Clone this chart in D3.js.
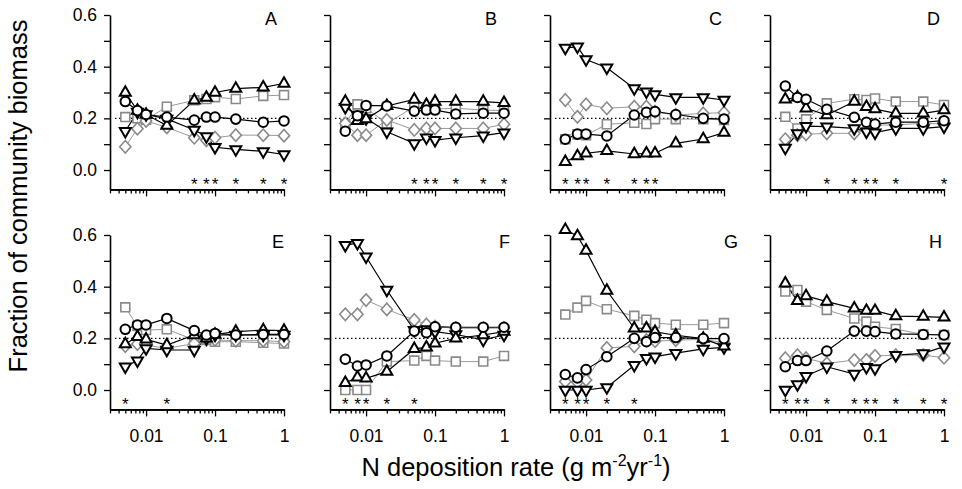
<!DOCTYPE html>
<html>
<head>
<meta charset="utf-8">
<script src="https://cdn.jsdelivr.net/npm/d3@7"></script>
<style>
  body { margin: 0; background: #fff; }
  text { font-family: "Liberation Sans", Arial, Helvetica, sans-serif; }
</style>
</head>
<body>
<div id="chart"></div>
<script>
// N deposition levels (g m-2 yr-1)
let xs = [0.005, 0.0075, 0.01, 0.02, 0.05, 0.075, 0.1, 0.2, 0.5, 1]
let panels = ["A", "B", "C", "D", "E", "F", "G", "H"]

// one row per panel, A..H
let circles = [
  [0.265, 0.23, 0.215, 0.205, 0.193, 0.205, 0.205, 0.197, 0.185, 0.19],
  [0.15, 0.21, 0.25, 0.248, 0.228, 0.232, 0.232, 0.217, 0.22, 0.22],
  [0.119, 0.139, 0.139, 0.132, 0.213, 0.223, 0.226, 0.215, 0.2, 0.197],
  [0.325, 0.281, 0.274, 0.235, 0.204, 0.185, 0.178, 0.185, 0.185, 0.191],
  [0.235, 0.252, 0.252, 0.277, 0.23, 0.213, 0.219, 0.213, 0.215, 0.215],
  [0.119, 0.093, 0.097, 0.132, 0.228, 0.222, 0.245, 0.243, 0.243, 0.243],
  [0.06, 0.047, 0.079, 0.129, 0.2, 0.187, 0.203, 0.203, 0.199, 0.199],
  [0.09, 0.114, 0.114, 0.151, 0.228, 0.228, 0.226, 0.217, 0.215, 0.213]
]
let upTriangles = [
  [0.30, 0.23, 0.215, 0.172, 0.27, 0.28, 0.30, 0.315, 0.32, 0.335],
  [0.265, 0.19, 0.197, 0.248, 0.273, 0.252, 0.265, 0.265, 0.265, 0.26],
  [0.032, 0.054, 0.065, 0.074, 0.062, 0.065, 0.065, 0.103, 0.12, 0.145],
  [0.274, 0.281, 0.239, 0.213, 0.265, 0.245, 0.236, 0.219, 0.219, 0.232],
  [0.178, 0.206, 0.196, 0.174, 0.213, 0.2, 0.215, 0.226, 0.232, 0.23],
  [0.028, 0.049, 0.045, 0.071, 0.159, 0.165, 0.181, 0.2, 0.213, 0.226],
  [0.62, 0.596, 0.54, 0.385, 0.239, 0.239, 0.225, 0.212, 0.199, 0.169],
  [0.413, 0.345, 0.364, 0.342, 0.316, 0.307, 0.307, 0.286, 0.284, 0.281]
]
let downTriangles = [
  [0.15, 0.225, 0.215, 0.198, 0.155, 0.13, 0.088, 0.08, 0.072, 0.06],
  [0.243, 0.213, 0.2, 0.148, 0.103, 0.125, 0.116, 0.125, 0.133, 0.145],
  [0.473, 0.477, 0.428, 0.396, 0.316, 0.303, 0.293, 0.281, 0.281, 0.271],
  [0.086, 0.142, 0.17, 0.168, 0.161, 0.148, 0.145, 0.161, 0.161, 0.168],
  [0.09, 0.114, 0.161, 0.155, 0.155, 0.2, 0.213, 0.213, 0.213, 0.213],
  [0.561, 0.568, 0.516, 0.387, 0.232, 0.235, 0.226, 0.215, 0.194, 0.213],
  [0, 0, 0, 0.01, 0.096, 0.123, 0.129, 0.143, 0.159, 0.165],
  [0, 0.022, 0.054, 0.09, 0.062, 0.088, 0.084, 0.135, 0.142, 0.168]
]
let squares = [
  [0.205, 0.2, 0.195, 0.245, 0.27, 0.275, 0.282, 0.275, 0.287, 0.29],
  [0.177, 0.254, 0.239, 0.18, 0.245, 0.239, 0.236, 0.239, 0.232, 0.23],
  [0.119, 0.138, 0.135, 0.177, 0.183, 0.178, 0.197, 0.197, 0.197, 0.194],
  [0.206, 0.161, 0.196, 0.258, 0.274, 0.271, 0.277, 0.265, 0.265, 0.252],
  [0.32, 0.248, 0.232, 0.235, 0.194, 0.194, 0.187, 0.187, 0.183, 0.18],
  [0, 0, 0, 0.11, 0.114, 0.132, 0.114, 0.11, 0.11, 0.132],
  [0.292, 0.319, 0.345, 0.313, 0.287, 0.272, 0.259, 0.253, 0.253, 0.259],
  [0.381, 0.387, 0.342, 0.31, 0.277, 0.265, 0.245, 0.236, 0.215, 0.213]
]
let diamonds = [
  [0.09, 0.16, 0.19, 0.165, 0.125, 0.115, 0.125, 0.135, 0.135, 0.133],
  [0.18, 0.135, 0.135, 0.194, 0.155, 0.161, 0.161, 0.161, 0.161, 0.177],
  [0.271, 0.206, 0.254, 0.239, 0.245, 0.245, 0.226, 0.213, 0.219, 0.222],
  [0.119, 0.135, 0.138, 0.142, 0.142, 0.155, 0.174, 0.174, 0.181, 0.178],
  [0.17, 0.178, 0.174, 0.161, 0.18, 0.194, 0.194, 0.191, 0.191, 0.187],
  [0.293, 0.293, 0.348, 0.312, 0.271, 0.254, 0.245, 0.239, 0.239, 0.24],
  [0.033, 0.03, 0.039, 0.163, 0.169, 0.193, 0.189, 0.193, 0.196, 0.183],
  [0.123, 0.135, 0.123, 0.103, 0.116, 0.116, 0.132, 0.135, 0.135, 0.125]
]
// N levels marked with an asterisk (significant)
let asterisks = [
  [0.05, 0.075, 0.1, 0.2, 0.5, 1],
  [0.05, 0.075, 0.1, 0.2, 0.5, 1],
  [0.005, 0.0075, 0.01, 0.02, 0.05, 0.075, 0.1],
  [0.02, 0.05, 0.075, 0.1, 0.2, 1],
  [0.005, 0.02],
  [0.005, 0.0075, 0.01, 0.02, 0.05],
  [0.005, 0.0075, 0.01, 0.02, 0.05],
  [0.005, 0.0075, 0.01, 0.02, 0.05, 0.075, 0.1, 0.2, 0.5, 1]
]
let yTicks = [0, 0.1, 0.2, 0.3, 0.4, 0.5, 0.6]
let yLabelled = [0, 0.2, 0.4, 0.6]
let xMajor = [0.01, 0.1, 1]
let xMinor = [0.003, 0.004, 0.005, 0.006, 0.007, 0.008, 0.009,
              0.02, 0.03, 0.04, 0.05, 0.06, 0.07, 0.08, 0.09,
              0.2, 0.3, 0.4, 0.5, 0.6, 0.7, 0.8, 0.9]

let svgWidth = 962, svgHeight = 489
let panelWidth = 174, panelHeight = 174.4
let colLeft = [110, 330, 550, 770]
let rowTop = [15, 235]
let letterShift = [-7, -7, -2, -4, 0, 6, 14, -2]

let grey = "#8a8a8a"

let svg = d3.select("#chart")
    .append("svg")
    .attr("width", svgWidth)
    .attr("height", svgHeight)

let xScale = d3.scaleLog()
    .domain([0.003, 1])
    .range([0, panelWidth])

let yScale = d3.scaleLinear()
    .domain([-0.075, 0.6])
    .range([panelHeight, 0])

let series = [
  {key: "square", values: squares, color: grey, line: "#9a9a9a", lw: 1, sw: 1.6},
  {key: "diamond", values: diamonds, color: grey, line: "#9a9a9a", lw: 1, sw: 1.6},
  {key: "down", values: downTriangles, color: "#000", line: "#000", lw: 1.2, sw: 2},
  {key: "up", values: upTriangles, color: "#000", line: "#000", lw: 1.2, sw: 2},
  {key: "circle", values: circles, color: "#000", line: "#000", lw: 1.2, sw: 2}
]

function markerPath(key){
    if (key == "circle") return d3.symbol(d3.symbolCircle, 72)()
    if (key == "up" || key == "down") return d3.symbol(d3.symbolTriangle, 52)()
    if (key == "square") return d3.symbol(d3.symbolSquare, 80)()
    return "M0,-6.2L5.6,0L0,6.2L-5.6,0Z"
}

let line = d3.line()
    .x(d => xScale(d[0]))
    .y(d => yScale(d[1]))

panels.forEach((name, p) => {
    let col = p % 4, row = Math.floor(p / 4)
    let g = svg.append("g")
        .attr("transform", `translate(${colLeft[col]},${rowTop[row]})`)

    // y axis
    let yAxis = g.append("g")
        .call(d3.axisLeft(yScale)
            .tickValues(yTicks)
            .tickSize(6)
            .tickSizeOuter(0)
            .tickPadding(7)
            .tickFormat(d => (col == 0 && yLabelled.some(v => Math.abs(v - d) < 1e-9)) ? d3.format(".1f")(d) : ""))
    // x axis, minor then major ticks
    let xMinorAxis = g.append("g")
        .attr("transform", `translate(0,${panelHeight})`)
        .call(d3.axisBottom(xScale).tickValues(xMinor).tickSize(4).tickSizeOuter(0).tickFormat(""))
    let xMajorAxis = g.append("g")
        .attr("transform", `translate(0,${panelHeight})`)
        .call(d3.axisBottom(xScale)
            .tickValues(xMajor)
            .tickSize(7)
            .tickSizeOuter(0)
            .tickPadding(13)
            .tickFormat(d => row == 1 ? (d == 1 ? "1" : String(d)) : ""))

    g.selectAll(".domain").attr("stroke-width", 1.6)
    g.selectAll(".tick line").attr("stroke-width", 1.3)
    g.selectAll(".tick text")
        .attr("font-size", "17.5px")
        .attr("font-family", "'Liberation Sans', Arial, sans-serif")
        .attr("fill", "#000")

    // reference line at equal share
    g.append("line")
        .attr("x1", 5)
        .attr("x2", xScale(1))
        .attr("y1", yScale(0.2))
        .attr("y2", yScale(0.2))
        .attr("stroke", "#000")
        .attr("stroke-width", 1.2)
        .attr("stroke-dasharray", "1.5,2.5")

    // lines
    series.forEach(s => {
        g.append("path")
            .datum(xs.map((x, i) => [x, s.values[p][i]]))
            .attr("fill", "none")
            .attr("stroke", s.line)
            .attr("stroke-width", s.lw)
            .attr("d", line)
    })

    // markers
    series.forEach(s => {
        g.append("g")
            .selectAll("path")
            .data(xs.map((x, i) => [x, s.values[p][i]]))
            .join("path")
            .attr("d", markerPath(s.key))
            .attr("transform", d => `translate(${xScale(d[0])},${yScale(d[1])})` + (s.key == "down" ? " rotate(180)" : ""))
            .attr("fill", "#fff")
            .attr("stroke", s.color)
            .attr("stroke-width", s.sw)
    })

    // significance asterisks
    g.append("g")
        .selectAll("text")
        .data(asterisks[p])
        .join("text")
        .attr("x", d => xScale(d))
        .attr("y", panelHeight + 1)
        .attr("text-anchor", "middle")
        .attr("font-size", "17px")
        .text("*")

    // panel letter
    g.append("text")
        .attr("x", xScale(1) + letterShift[p])
        .attr("y", row == 0 ? 10 : 12.5)
        .attr("text-anchor", "end")
        .attr("font-size", "18px")
        .text(name)
})

// axis titles
svg.append("text")
    .attr("transform", "translate(27,196) rotate(-90)")
    .attr("text-anchor", "middle")
    .attr("font-size", "25.5px")
    .text("Fraction of community biomass")

let xTitle = svg.append("text")
    .attr("x", 516)
    .attr("y", 476)
    .attr("text-anchor", "middle")
    .attr("font-size", "25.5px")
xTitle.append("tspan").text("N deposition rate (g m")
xTitle.append("tspan").attr("font-size", "16px").attr("dy", -10).text("-2")
xTitle.append("tspan").attr("dy", 10).text("yr")
xTitle.append("tspan").attr("font-size", "16px").attr("dy", -10).text("-1")
xTitle.append("tspan").attr("dy", 10).text(")")
</script>
</body>
</html>
